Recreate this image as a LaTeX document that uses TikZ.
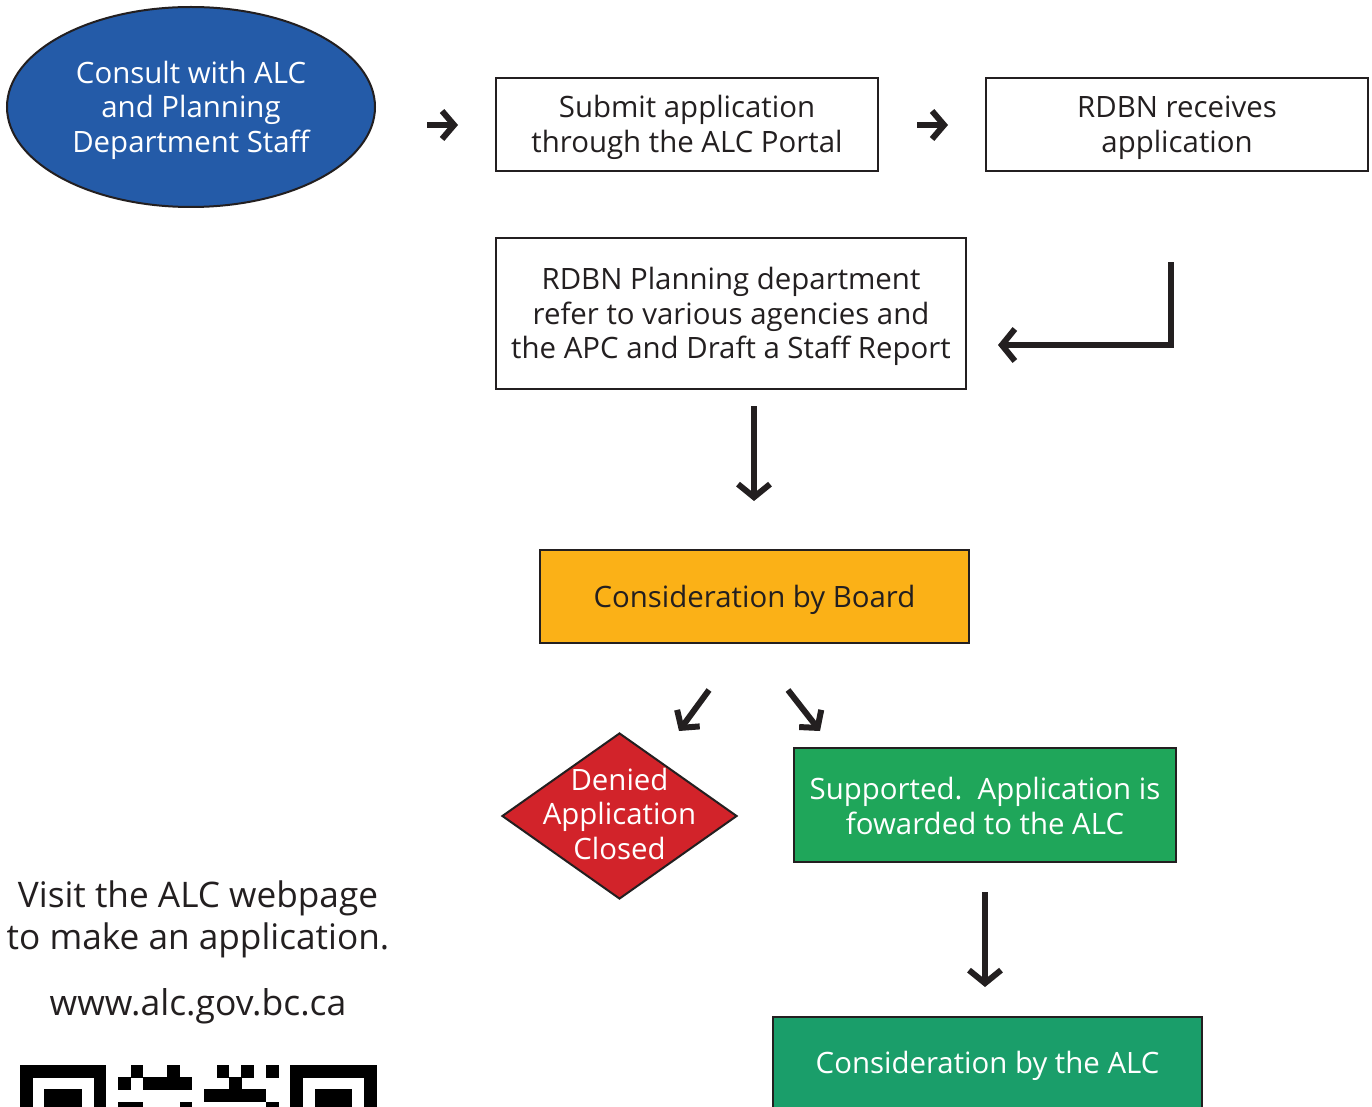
\documentclass[tikz,border=0pt]{standalone}
\usepackage{fontspec}
\setmainfont{Open Sans}
\usetikzlibrary{shapes.geometric,arrows.meta}
\definecolor{dk}{HTML}{231F20}
\definecolor{cblue}{HTML}{245BA8}
\definecolor{cyellow}{HTML}{FBB117}
\definecolor{cred}{HTML}{D2232A}
\definecolor{cgreen}{HTML}{1FA65A}
\definecolor{cteal}{HTML}{1A9E6A}
\tikzset{
  boxstyle/.style={draw=dk, line width=2pt, inner sep=0pt},
  txt/.style={text=dk, align=center, inner sep=0pt, yshift=-3pt,
    font=\fontsize{29.4}{34.5}\selectfont},
  whitetext/.style={txt, text=white},
  bigarrow/.style={draw=dk, line width=6pt, line join=miter,
    -{Straight Barb[length=13pt,width=32pt]}},
  smallarrow/.style={draw=dk, line width=6pt, line join=miter,
    -{Straight Barb[length=12pt,width=28pt]}},
  qrmod/.style={fill=black},
}
\newcommand{\qrm}[2]{\fill[qrmod] ({20+12.3*(#1)-0.2},{1065+12.3*(#2)-0.2}) rectangle ++(12.7,12.7);}
\begin{document}
\begin{tikzpicture}[x=1pt,y=-1pt]
\useasboundingbox (0,0) rectangle (1372,1107);
\clip (0,0) rectangle (1372,1107);
\fill[white] (0,0) rectangle (1372,1107);

% shapes
\node[ellipse, draw=dk, line width=2pt, fill=cblue, minimum width=368pt, minimum height=200pt, inner sep=0pt]
  (consult) at (191,107) {};
\node[boxstyle, minimum width=382pt, minimum height=93pt] (submit) at (687,124.5) {};
\node[boxstyle, minimum width=382pt, minimum height=93pt] (receive) at (1177,124.5) {};
\node[boxstyle, minimum width=470pt, minimum height=151pt] (planning) at (731,313.5) {};
\node[boxstyle, fill=cyellow, minimum width=429pt, minimum height=93pt] (board) at (754.5,596.5) {};
\node[diamond, draw=dk, line width=2pt, fill=cred, minimum width=235pt, minimum height=166pt, inner sep=0pt]
  (denied) at (619.5,816) {};
\node[boxstyle, fill=cgreen, minimum width=382pt, minimum height=114pt] (supported) at (985,805) {};
\node[boxstyle, fill=cteal, minimum width=429pt, minimum height=93pt] (alc) at (987.5,1063) {};

% texts
\node[whitetext] (consultt) at (consult) {Consult with ALC\\and Planning\\Department Staff};
\node[txt] (submitt) at (submit) {Submit application\\through the ALC Portal};
\node[txt] (receivet) at (receive) {RDBN receives\\application};
\node[txt] (planningt) at (planning) {RDBN Planning department\\refer to various agencies and\\the APC and Draft a Staff Report};
\node[txt] (boardt) at (board) {Consideration by Board};
\node[whitetext] (deniedt) at (619.5,810.5) {Denied\\Application\\Closed};
\node[whitetext] (supportedt) at (985,803) {Supported.\ \ Application is\\fowarded to the ALC};
\node[whitetext] (alct) at (alc) {Consideration by the ALC};

\node[text=dk, align=center, font=\fontsize{35.2}{42}\selectfont, inner sep=0pt] (visit) at (198,919)
  {Visit the ALC webpage\\to make an application.};
\node[text=dk, font=\fontsize{35.5}{42}\selectfont, inner sep=0pt] (url) at (198,1006) {www.alc.gov.bc.ca};

% arrow coordinates
\coordinate (a1s) at (427,125); \coordinate (a1e) at (458,125);
\coordinate (a2s) at (917,125); \coordinate (a2e) at (948,125);
\coordinate (a3s) at (1171,262); \coordinate (a3c) at (1171,345); \coordinate (a3e) at (998,345);
\coordinate (a4s) at (754,406); \coordinate (a4e) at (754,501);
\coordinate (a5s) at (709,690); \coordinate (a5e) at (679,731);
\coordinate (a6s) at (788,690); \coordinate (a6e) at (820,731);
\coordinate (a7s) at (985,892); \coordinate (a7e) at (985,987);

\draw[smallarrow] (a1s) -- (a1e);
\draw[smallarrow] (a2s) -- (a2e);
\draw[bigarrow] (a3s) -- (a3c) -- (a3e);
\draw[bigarrow] (a4s) -- (a4e);
\draw[smallarrow] (a5s) -- (a5e);
\draw[smallarrow] (a6s) -- (a6e);
\draw[bigarrow] (a7s) -- (a7e);

% QR code (top rows visible)
\foreach \ox in {0,22}{
  \foreach \c in {0,...,6}{\qrm{\ox+\c}{0}}
  \foreach \r in {1,...,5}{\qrm{\ox}{\r}\qrm{\ox+6}{\r}}
  \foreach \r in {2,3,4}{\foreach \c in {2,3,4}{\qrm{\ox+\c}{\r}}}
}
\foreach \c in {9,12,16,18,20}{\qrm{\c}{0}}
\foreach \c in {8,10,11,12,13,17}{\qrm{\c}{1}}
\foreach \c in {15,16,17,18,19}{\qrm{\c}{2}}
\foreach \c in {8,9,13,20}{\qrm{\c}{3}}
\end{tikzpicture}
\end{document}
